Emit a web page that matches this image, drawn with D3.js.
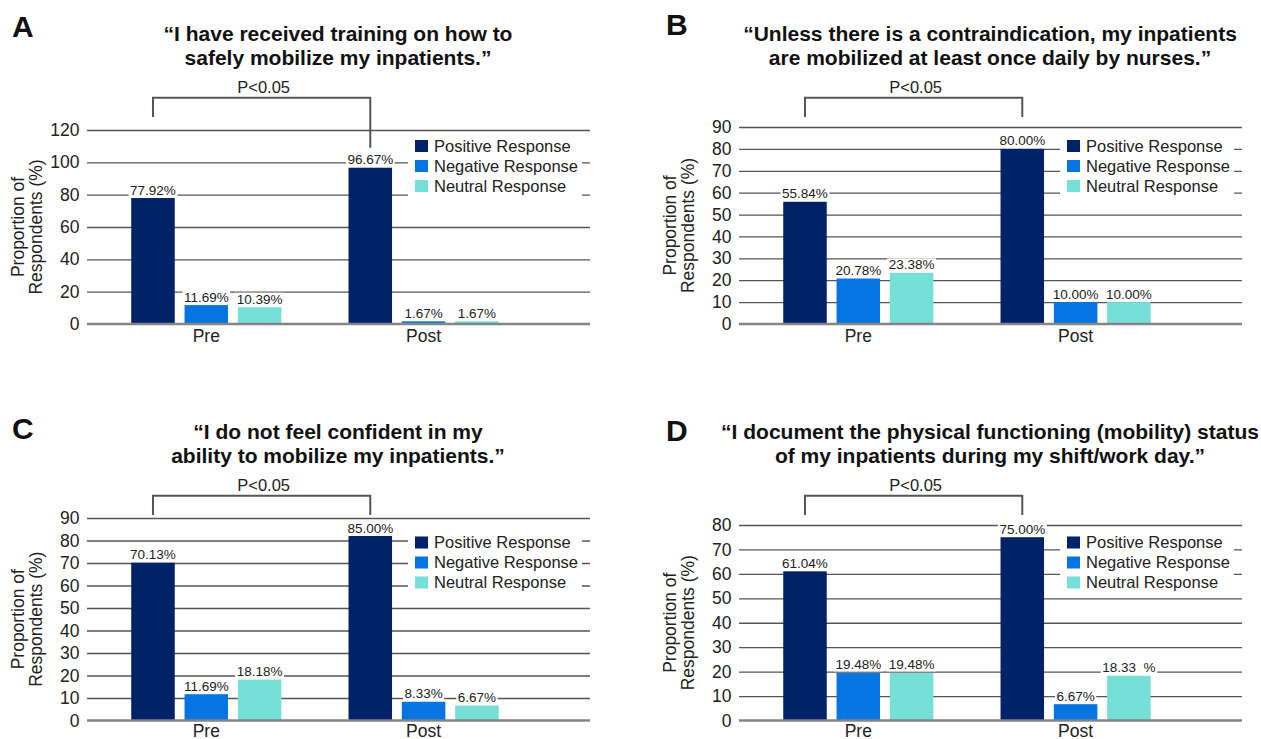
<!DOCTYPE html>
<html>
<head>
<meta charset="utf-8">
<script src="https://cdn.jsdelivr.net/npm/d3@7"></script>
<style>
  html, body { margin: 0; padding: 0; background: #fff; }
  svg { display: block; font-family: "Liberation Sans", Arial, Helvetica, sans-serif; }
</style>
</head>
<body>
<svg id="chart" width="1261" height="739"></svg>
<script>
// ---------------- DATA ----------------
const categories = ["Pre", "Post"];
const seriesNames = ["Positive Response", "Negative Response", "Neutral Response"];
const seriesColors = ["#012169", "#0474e0", "#76e0d8"];
const panelLetters = ["A", "B", "C", "D"];

const titleA = ["\u201cI have received training on how to", "safely mobilize my inpatients.\u201d"];
const titleB = ["\u201cUnless there is a contraindication, my inpatients", "are mobilized at least once daily by nurses.\u201d"];
const titleC = ["\u201cI do not feel confident in my", "ability to mobilize my inpatients.\u201d"];
const titleD = ["\u201cI document the physical functioning (mobility) status", "of my inpatients during my shift/work day.\u201d"];

// values per series: [Pre, Post]
const positiveA = [77.92, 96.67], negativeA = [11.69, 1.67], neutralA = [10.39, 1.67];
const positiveB = [55.84, 80.00], negativeB = [20.78, 10.00], neutralB = [23.38, 10.00];
const positiveC = [70.13, 82.0],  negativeC = [11.69, 8.33],  neutralC = [18.18, 6.67];
const positiveD = [61.04, 75.00], negativeD = [19.48, 6.67],  neutralD = [19.48, 18.33];

// printed bar labels per series: [Pre, Post]
const labelsA = [["77.92%", "96.67%"], ["11.69%", "1.67%"], ["10.39%", "1.67%"]];
const labelsB = [["55.84%", "80.00%"], ["20.78%", "10.00%"], ["23.38%", "10.00%"]];
const labelsC = [["70.13%", "85.00%"], ["11.69%", "8.33%"], ["18.18%", "6.67%"]];
const labelsD = [["61.04%", "75.00%"], ["19.48%", "6.67%"], ["19.48%", "18.33  %"]];

const ticksA = [0, 20, 40, 60, 80, 100, 120];
const ticksB = [0, 10, 20, 30, 40, 50, 60, 70, 80, 90];
const ticksC = [0, 10, 20, 30, 40, 50, 60, 70, 80, 90];
const ticksD = [0, 10, 20, 30, 40, 50, 60, 70, 80];

const yAxisTitle = ["Proportion of", "Respondents (%)"];
const sigText = "P<0.05";

// ---------------- LAYOUT ----------------
const PLOT_W = 503;
const panels = [
  { letter: panelLetters[0], title: titleA, series: [positiveA, negativeA, neutralA], labels: labelsA, ticks: ticksA,
    left: 87, top: 130, zero: 324, rowY: 0, letterX: 12, letterY: 37, extendRightLeg: true },
  { letter: panelLetters[1], title: titleB, series: [positiveB, negativeB, neutralB], labels: labelsB, ticks: ticksB,
    left: 739, top: 127, zero: 324, rowY: 0, letterX: 666, letterY: 35 },
  { letter: panelLetters[2], title: titleC, series: [positiveC, negativeC, neutralC], labels: labelsC, ticks: ticksC,
    left: 87, top: 518, zero: 720.5, rowY: 398, letterX: 12, letterY: 439 },
  { letter: panelLetters[3], title: titleD, series: [positiveD, negativeD, neutralD], labels: labelsD, ticks: ticksD,
    left: 739, top: 525, zero: 720.5, rowY: 398, letterX: 666, letterY: 441 }
];

const svg = d3.select("#chart");

panels.forEach(p => {
  const g = svg.append("g");
  const yMax = d3.max(p.ticks);
  const y = d3.scaleLinear().domain([0, yMax]).range([p.zero, p.top]);
  const x0 = d3.scaleBand().domain(categories).range([p.left + 10.65, p.left + 445.25]);
  const x1 = d3.scaleBand().domain(seriesNames).range([0, x0.bandwidth()])
    .paddingInner(0.184).paddingOuter(0.63);

  // gridlines + tick labels
  const ax = g.append("g")
    .attr("transform", `translate(${p.left},0)`)
    .call(d3.axisLeft(y).tickValues(p.ticks).tickSize(-PLOT_W).tickPadding(7.5).tickFormat(d3.format("d")));
  ax.select(".domain").remove();
  ax.selectAll(".tick line").attr("stroke", "#555").attr("stroke-width", 1.3)
    .filter(d => d === 0).remove();
  ax.selectAll(".tick text").attr("font-size", "17.5px").attr("fill", "#222")
    .attr("font-family", '"Liberation Sans", Arial, sans-serif');

  // bars
  const rows = [];
  seriesNames.forEach((s, si) => {
    categories.forEach((c, ci) => {
      rows.push({ s, si, c, ci, v: p.series[si][ci], label: p.labels[si][ci] });
    });
  });
  g.append("g").selectAll("rect").data(rows).join("rect")
    .attr("x", d => x0(d.c) + x1(d.s))
    .attr("y", d => y(d.v))
    .attr("width", x1.bandwidth())
    .attr("height", d => y(0) - y(d.v))
    .attr("fill", d => seriesColors[d.si]);

  // zero line
  g.append("line")
    .attr("x1", p.left).attr("x2", p.left + PLOT_W)
    .attr("y1", y(0)).attr("y2", y(0))
    .attr("stroke", "#858585").attr("stroke-width", 2.5);

  // value labels with white background
  const lg = g.append("g");
  rows.forEach(d => {
    const cx = x0(d.c) + x1(d.s) + x1.bandwidth() / 2;
    const t = lg.append("text")
      .attr("x", cx).attr("y", y(d.v) - 3.5)
      .attr("text-anchor", "middle")
      .attr("font-size", "13.5px").attr("fill", "#222")
      .style("white-space", "pre")
      .text(d.label);
    const bb = t.node().getBBox();
    lg.insert("rect", () => t.node())
      .attr("x", bb.x - 1.5).attr("y", bb.y + 1)
      .attr("width", bb.width + 3).attr("height", bb.height - 2)
      .attr("fill", "#fff");
  });

  // legend
  const leg = g.append("g");
  leg.append("rect")
    .attr("x", p.left + 321).attr("y", p.zero - 190)
    .attr("width", 174).attr("height", 64).attr("fill", "#fff");
  seriesNames.forEach((s, i) => {
    const cy = p.zero - 178 + 20 * i;
    leg.append("rect").attr("x", p.left + 328).attr("y", cy - 6)
      .attr("width", 13).attr("height", 12).attr("fill", seriesColors[i]);
    leg.append("text").attr("x", p.left + 347).attr("y", cy).attr("dy", "0.35em")
      .attr("font-size", "16.5px").attr("fill", "#222").text(s);
  });

  // category labels
  categories.forEach(c => {
    g.append("text")
      .attr("x", x0(c) + x0.bandwidth() / 2).attr("y", Math.min(p.zero + 18, 736.5))
      .attr("text-anchor", "middle").attr("font-size", "17.5px").attr("fill", "#222")
      .text(c);
  });

  // y axis title
  const mid = (p.top + p.zero) / 2;
  yAxisTitle.forEach((line, i) => {
    g.append("text")
      .attr("transform", `translate(${p.left - 69 + 18 * i},${mid}) rotate(-90)`)
      .attr("dy", "0.35em")
      .attr("text-anchor", "middle").attr("font-size", "17.5px").attr("fill", "#222")
      .text(line);
  });

  // significance bracket
  const bw = x1.bandwidth();
  const xa = x0(categories[0]) + x1(seriesNames[0]) + bw / 2;
  const xb = x0(categories[1]) + x1(seriesNames[0]) + bw / 2;
  const by = 97.7 + p.rowY;
  const legA = by + 19.3;
  const legB = p.extendRightLeg ? y(p.series[0][1]) - 20 : by + 19.3;
  g.append("path")
    .attr("d", `M${xa},${legA} V${by} H${xb} V${legB}`)
    .attr("fill", "none").attr("stroke", "#555").attr("stroke-width", 2);
  g.append("text")
    .attr("x", (xa + xb) / 2 + 2).attr("y", 93 + p.rowY)
    .attr("text-anchor", "middle").attr("font-size", "16.5px").attr("fill", "#222")
    .text(sigText);

  // title
  p.title.forEach((line, i) => {
    g.append("text")
      .attr("x", p.left + 251).attr("y", 40.5 + 24 * i + p.rowY)
      .attr("text-anchor", "middle").attr("font-size", "21px").attr("font-weight", "bold")
      .attr("fill", "#111").text(line);
  });

  // panel letter
  g.append("text")
    .attr("x", p.letterX).attr("y", p.letterY)
    .attr("font-size", "30px").attr("font-weight", "bold").attr("fill", "#111")
    .text(p.letter);
});
</script>
</body>
</html>
